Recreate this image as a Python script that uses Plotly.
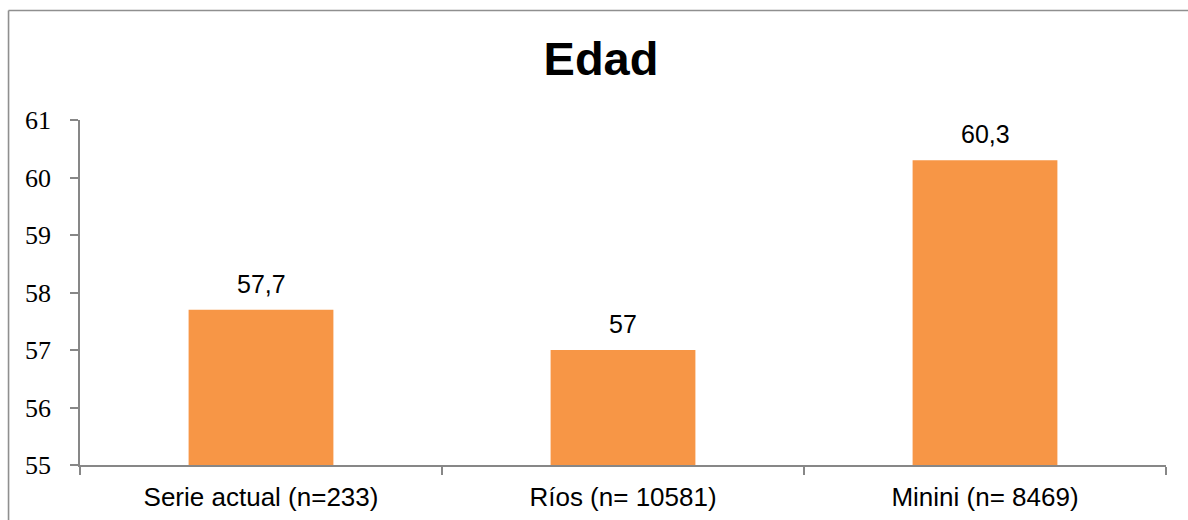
import plotly.graph_objects as go

# Mean age by series
categories = ["Serie actual (n=233)", "Ríos (n= 10581)", "Minini (n= 8469)"]
ages = [57.7, 57, 60.3]
y_ticks = [55, 56, 57, 58, 59, 60, 61]
AXIS_FLOOR = 55

BAR_COLOR = "#F79646"
AXIS_COLOR = "#878787"
SANS = "Liberation Sans, Arial, sans-serif"
SERIF = "Liberation Serif, Times New Roman, serif"


def fmt(v):
    return f"{v:g}".replace(".", ",")


# bars rise from the axis floor up to each age
fig = go.Figure(
    go.Bar(
        x=categories,
        y=[a - AXIS_FLOOR for a in ages],
        base=AXIS_FLOOR,
        marker=dict(color=BAR_COLOR, line=dict(width=0)),
        hoverinfo="skip",
    )
)

for cat, val in zip(categories, ages):
    fig.add_annotation(
        x=cat, y=val, xref="x", yref="y",
        text=fmt(val), showarrow=False,
        yanchor="bottom", yshift=10,
        font=dict(family=SANS, size=25, color="#000000"),
    )

# outer frame of the chart area
fig.add_shape(type="line", xref="paper", yref="paper",
              x0=-0.0658, x1=-0.0658, y0=-0.3, y1=1.3174,
              line=dict(color="#8f8f8f", width=1.6))
fig.add_shape(type="line", xref="paper", yref="paper",
              x0=-0.0658, x1=1.1, y0=1.3174, y1=1.3174,
              line=dict(color="#8f8f8f", width=1.6))

fig.update_layout(
    width=1188, height=520,
    margin=dict(l=80, r=22, t=120, b=55),
    paper_bgcolor="white", plot_bgcolor="white",
    bargap=0.6,
    showlegend=False,
    title=dict(
        text="<b>Edad</b>",
        x=601 / 1188, xanchor="center",
        y=1 - 59 / 520, yanchor="middle", yref="container",
        font=dict(family=SANS, size=47, color="#000000"),
    ),
)

fig.update_xaxes(
    automargin=False,
    showline=True, linecolor=AXIS_COLOR, linewidth=1.6,
    ticks="outside", tickson="boundaries", ticklen=8, tickwidth=1.6,
    tickcolor=AXIS_COLOR, showgrid=False, zeroline=False,
    ticklabelstandoff=8,
    tickfont=dict(family=SANS, size=26, color="#000000"),
)
fig.update_yaxes(
    automargin=False,
    range=[y_ticks[0], y_ticks[-1]],
    tickvals=y_ticks,
    ticktext=[str(t) for t in y_ticks],
    showline=True, linecolor=AXIS_COLOR, linewidth=1.6,
    ticks="outside", ticklen=8, tickwidth=1.6, tickcolor=AXIS_COLOR,
    showgrid=False, zeroline=False,
    ticklabelstandoff=14,
    tickfont=dict(family=SERIF, size=26, color="#000000"),
)

fig.write_html("out.html")
